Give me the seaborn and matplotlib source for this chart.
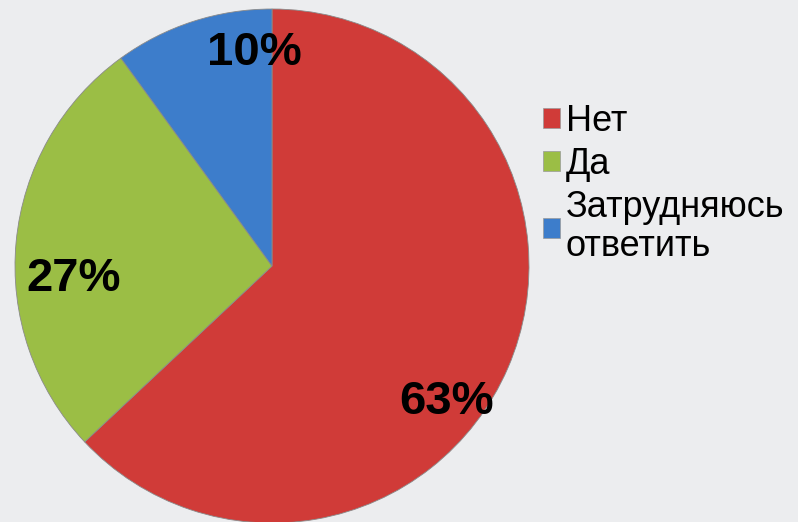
import matplotlib
matplotlib.use("Agg")
import matplotlib.pyplot as plt
import matplotlib.patches as mpatches
import seaborn as sns

# data
categories = ["Нет", "Да", "Затрудняюсь\nответить"]
shares = [63, 27, 10]
pct_labels = ["63%", "27%", "10%"]
colors = ["#D03B38", "#9BBE45", "#3D7DCB"]

# label placement (pie units, centre = 0,0)
label_pos = [(0.68, -0.53), (-0.77, -0.05), (-0.07, 0.83)]

sns.set_theme(style="white")
plt.rcParams["font.family"] = ["Liberation Sans", "DejaVu Sans"]

BG = "#ECEDEF"
fig = plt.figure(figsize=(7.98, 5.22), dpi=100, facecolor=BG)
ax = fig.add_axes([15 / 798, -1 / 522, 514 / 798, 514 / 522])
ax.set_facecolor(BG)

wedges, _ = ax.pie(
    shares,
    colors=colors,
    startangle=90,
    counterclock=False,
    radius=1.0,
    wedgeprops=dict(edgecolor="#8a8a8a", linewidth=0.6),
)
ax.set_xlim(-1.0, 1.0)
ax.set_ylim(-1.0, 1.0)
ax.set_aspect("equal")
ax.axis("off")

for txt, (x, y) in zip(pct_labels, label_pos):
    ax.text(x, y, txt, ha="center", va="center", fontsize=34,
            fontweight="bold", color="black")

handles = [mpatches.Patch(facecolor=c, edgecolor="#999999", linewidth=0.5)
           for c in colors]
leg = fig.legend(handles, categories, loc="upper left",
                 bbox_to_anchor=(543 / 798, 1 - 104 / 522),
                 frameon=False, fontsize=26, handlelength=0.48,
                 handleheight=0.48, handletextpad=0.15, labelspacing=0.22,
                 borderaxespad=0, borderpad=0)
for t in leg.get_texts():
    t.set_color("black")
    t.set_linespacing(1.15)

fig.savefig("out.png", dpi=100, facecolor=BG)
